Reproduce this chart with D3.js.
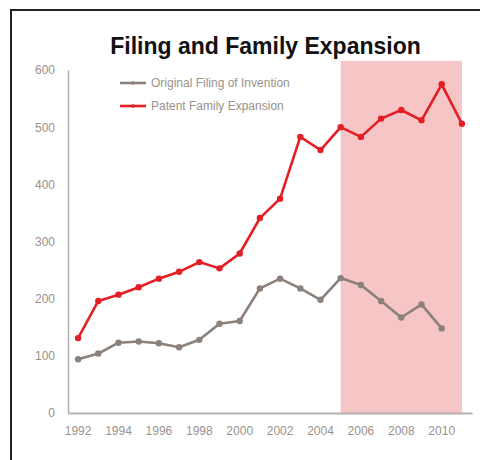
<!DOCTYPE html>
<html>
<head>
<meta charset="utf-8">
<script src="https://cdn.jsdelivr.net/npm/d3@7"></script>
<style>
  body { margin: 0; background: #fff; }
  svg { display: block; }
</style>
</head>
<body>
<div id="chart"></div>
<script>
const years = [1992, 1993, 1994, 1995, 1996, 1997, 1998, 1999, 2000, 2001,
               2002, 2003, 2004, 2005, 2006, 2007, 2008, 2009, 2010, 2011];
const originalFiling = [94, 104, 123, 125, 122, 115, 128, 156, 161, 218,
                        235, 218, 198, 236, 224, 196, 167, 190, 148, null];
const familyExpansion = [131, 196, 207, 220, 235, 247, 264, 253, 279, 341,
                         375, 483, 460, 500, 483, 515, 530, 512, 575, 506];
const yTicks = [0, 100, 200, 300, 400, 500, 600];
const xTickYears = [1992, 1994, 1996, 1998, 2000, 2002, 2004, 2006, 2008, 2010];
const highlightYears = [2005, 2011];
const seriesNames = ["Original Filing of Invention", "Patent Family Expansion"];

const sizes = {width: 480, height: 460, margin: {top: 70, right: 8, bottom: 47, left: 68}};
const font = "'Liberation Sans', Arial, sans-serif";
const grey = "#8b807a";
const red = "#e31e24";
const labelColor = "#9a918c";

const svg = d3.select("#chart").append("svg")
  .attr("width", sizes.width)
  .attr("height", sizes.height)
  .attr("viewBox", `0 0 ${sizes.width} ${sizes.height}`);

// frame (right + bottom edges run off the picture)
svg.append("rect")
  .attr("x", 11).attr("y", 10)
  .attr("width", 480).attr("height", 460)
  .attr("fill", "none")
  .attr("stroke", "#222")
  .attr("stroke-width", 2);

const x = d3.scaleBand()
  .domain(years)
  .range([sizes.margin.left, 472]);
const cx = (yr) => x(yr) + x.bandwidth() / 2;

const y = d3.scaleLinear()
  .domain([0, 600])
  .range([sizes.height - sizes.margin.bottom, sizes.margin.top]);

// shaded period
svg.append("rect")
  .attr("x", cx(highlightYears[0]))
  .attr("y", y(616))
  .attr("width", cx(highlightYears[1]) - cx(highlightYears[0]))
  .attr("height", y(0) - y(616))
  .attr("fill", "#f6c6c6");

// axes
svg.append("g")
  .attr("transform", `translate(0,${y(0)})`)
  .call(d3.axisBottom(x).tickValues(xTickYears).tickSize(0).tickPadding(13))
  .call(g => g.select(".domain").attr("stroke", "#b5b0ad").attr("stroke-width", 2))
  .selectAll("text")
    .style("font-size", "12px")
    .style("font-family", font)
    .style("fill", labelColor);

svg.append("g")
  .attr("transform", `translate(${sizes.margin.left},0)`)
  .call(d3.axisLeft(y).tickValues(yTicks).tickSize(0).tickPadding(13))
  .call(g => g.select(".domain").attr("stroke", "#b5b0ad").attr("stroke-width", 1.5))
  .selectAll("text")
    .style("font-size", "12px")
    .style("font-family", font)
    .style("fill", labelColor);

// lines
const line = d3.line()
  .defined(d => d.value != null)
  .x(d => cx(d.year))
  .y(d => y(d.value));

const series = [
  {name: seriesNames[0], color: grey, values: originalFiling},
  {name: seriesNames[1], color: red, values: familyExpansion}
];

series.forEach(s => {
  const pts = years.map((yr, i) => ({year: yr, value: s.values[i]}));
  const g = svg.append("g");
  g.append("path")
    .attr("fill", "none")
    .attr("stroke", s.color)
    .attr("stroke-width", 2.6)
    .attr("stroke-linejoin", "round")
    .attr("d", line(pts));
  g.selectAll("circle")
    .data(pts.filter(d => d.value != null))
    .enter()
    .append("circle")
      .attr("cx", d => cx(d.year))
      .attr("cy", d => y(d.value))
      .attr("r", 3.2)
      .attr("fill", s.color);
});

// legend
series.forEach((s, i) => {
  const ly = 83 + i * 23;
  svg.append("line")
    .attr("x1", 120).attr("x2", 146)
    .attr("y1", ly).attr("y2", ly)
    .attr("stroke", s.color)
    .attr("stroke-width", 2.6);
  svg.append("circle")
    .attr("cx", 133).attr("cy", ly).attr("r", 1.8)
    .attr("fill", s.color);
  svg.append("text")
    .text(s.name)
    .attr("x", 151)
    .attr("y", ly)
    .attr("dy", "0.35em")
    .style("font-size", "12px")
    .style("font-family", font)
    .style("fill", labelColor);
});

// title
svg.append("text")
  .text("Filing and Family Expansion")
  .attr("x", 265.5)
  .attr("y", 54)
  .style("text-anchor", "middle")
  .style("font-size", "23px")
  .style("font-weight", "bold")
  .style("font-family", font)
  .style("fill", "#111");
</script>
</body>
</html>
